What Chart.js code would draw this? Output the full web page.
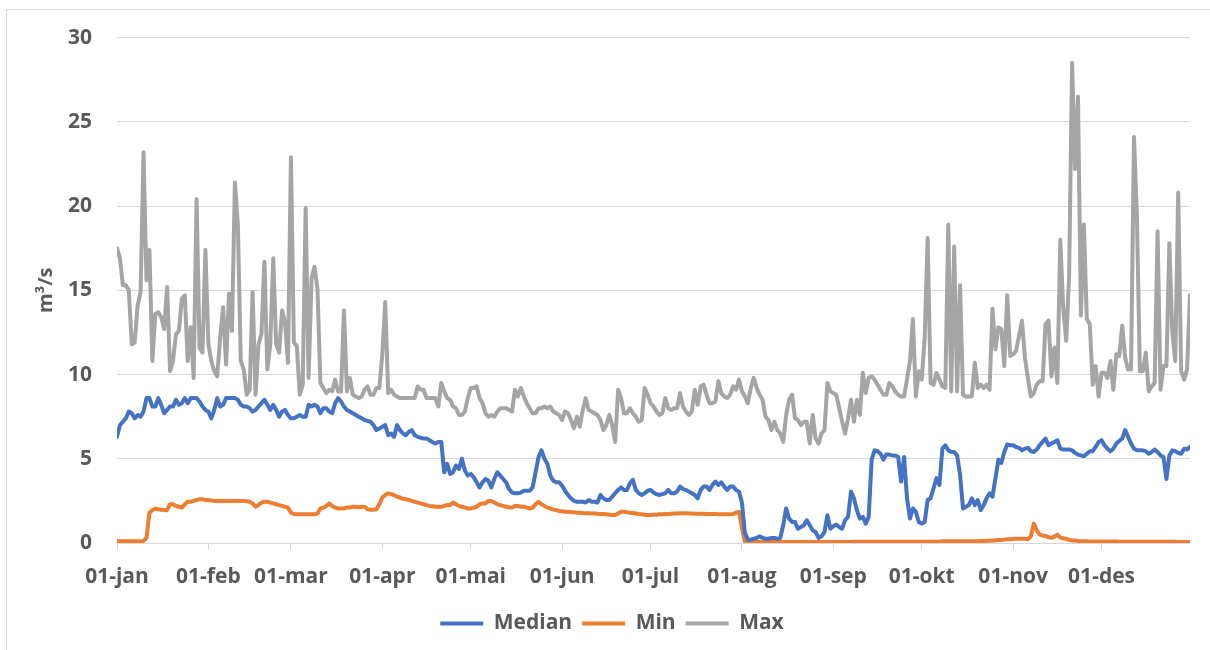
<!DOCTYPE html>
<html lang="no">
<head>
  <meta charset="UTF-8">
  <title>Vannføring – Median, Min, Max</title>
  <script src="https://cdn.jsdelivr.net/npm/chart.js"></script>
  <style>
    html, body { margin: 0; padding: 0; background: #fff; overflow: hidden; }
    #wrap { position: relative; width: 1210px; height: 650px; }
  </style>
</head>
<body>
  <div id="wrap"><canvas id="flowChart"></canvas></div>

  <script>
    // x-axis: day of year (0 = 01-jan), ticks at first day of each month
    const monthStarts = [0, 31, 59, 90, 120, 151, 181, 212, 243, 273, 304, 334];
    const monthLabels = ['01-jan', '01-feb', '01-mar', '01-apr', '01-mai', '01-jun',
                         '01-jul', '01-aug', '01-sep', '01-okt', '01-nov', '01-des'];
    const yTicks = [0, 5, 10, 15, 20, 25, 30];
    const seriesNames = ['Median', 'Min', 'Max'];

    // daily values, m³/s
    const medianValues = [
      /*0*/   6.3, 7.0, 7.2, 7.4, 7.8, 7.7, 7.4, 7.6, 7.5, 7.8,
      /*10*/  8.6, 8.6, 8.1, 8.1, 8.6, 8.2, 7.7, 7.9, 8.1, 8.1,
      /*20*/  8.5, 8.2, 8.3, 8.6, 8.3, 8.6, 8.6, 8.6, 8.4, 8.1,
      /*30*/  7.9, 7.8, 7.4, 7.9, 8.6, 8.1, 8.2, 8.6, 8.6, 8.6,
      /*40*/  8.6, 8.5, 8.2, 8.1, 8.1, 8.0, 7.8, 7.9, 8.1, 8.3,
      /*50*/  8.5, 8.2, 7.9, 8.2, 7.9, 7.5, 7.8, 7.9, 7.6, 7.4,
      /*60*/  7.4, 7.5, 7.6, 7.5, 7.5, 8.2, 8.1, 8.2, 8.1, 7.7,
      /*70*/  8.0, 8.0, 7.8, 7.7, 8.3, 8.6, 8.4, 8.1, 7.9, 7.8,
      /*80*/  7.7, 7.6, 7.5, 7.4, 7.3, 7.25, 7.2, 7.0, 6.7, 6.8,
      /*90*/  6.9, 7.0, 6.4, 6.5, 6.3, 7.0, 6.7, 6.5, 6.4, 6.6,
      /*100*/ 6.7, 6.4, 6.3, 6.25, 6.2, 6.2, 6.1, 6.0, 5.9, 6.0,
      /*110*/ 6.0, 4.2, 4.7, 4.1, 4.2, 4.6, 4.4, 5.0, 4.3, 4.0,
      /*120*/ 4.1, 3.9, 3.6, 3.3, 3.6, 3.8, 3.7, 3.3, 3.8, 4.2,
      /*130*/ 4.0, 3.8, 3.6, 3.2, 3.0, 2.95, 2.95, 3.0, 3.1, 3.1,
      /*140*/ 3.1, 3.3, 4.2, 5.1, 5.5, 5.0, 4.7, 4.0, 3.7, 3.6,
      /*150*/ 3.6, 3.4, 3.1, 2.85, 2.65, 2.5, 2.45, 2.45, 2.45, 2.4,
      /*160*/ 2.55, 2.45, 2.45, 2.4, 2.85, 2.65, 2.55, 2.55, 2.75, 2.95,
      /*170*/ 3.15, 3.3, 3.15, 3.15, 3.55, 3.75, 3.15, 2.95, 2.85, 2.95,
      /*180*/ 3.1, 3.15, 3.0, 2.9, 2.85, 2.9, 2.95, 3.15, 2.95, 2.95,
      /*190*/ 3.05, 3.35, 3.2, 3.15, 3.05, 2.95, 2.85, 2.65, 3.15, 3.35,
      /*200*/ 3.35, 3.15, 3.45, 3.65, 3.45, 3.6, 3.35, 3.15, 3.35, 3.35,
      /*210*/ 3.15, 3.05, 2.4, 0.6, 0.2, 0.2, 0.25, 0.3, 0.4, 0.3,
      /*220*/ 0.25, 0.25, 0.3, 0.3, 0.25, 0.3, 1.05, 2.05, 1.45, 1.25,
      /*230*/ 1.25, 0.85, 0.95, 1.05, 1.35, 1.05, 0.75, 0.65, 0.3, 0.4,
      /*240*/ 0.65, 1.65, 0.85, 1.0, 1.1, 0.95, 0.85, 1.35, 1.55, 3.05,
      /*250*/ 2.65, 1.95, 1.45, 1.55, 1.15, 1.55, 4.95, 5.5, 5.45, 5.3,
      /*260*/ 4.95, 5.25, 5.25, 5.2, 5.2, 5.1, 3.65, 5.1, 2.65, 1.45,
      /*270*/ 2.05, 1.85, 1.25, 1.15, 1.25, 2.55, 2.65, 3.25, 3.85, 3.45,
      /*280*/ 5.6, 5.8, 5.5, 5.4, 5.4, 5.2, 4.05, 2.05, 2.15, 2.25,
      /*290*/ 2.65, 2.25, 2.55, 1.95, 2.25, 2.65, 2.95, 2.75, 3.85, 4.95,
      /*300*/ 4.75, 5.4, 5.85, 5.8, 5.8, 5.7, 5.65, 5.5, 5.6, 5.65,
      /*310*/ 5.45, 5.4, 5.55, 5.8, 6.0, 6.2, 5.8, 5.9, 6.0, 6.1,
      /*320*/ 5.6, 5.55, 5.55, 5.55, 5.5, 5.35, 5.25, 5.2, 5.15, 5.3,
      /*330*/ 5.45, 5.45, 5.7, 6.0, 6.1, 5.8, 5.6, 5.45, 5.6, 5.9,
      /*340*/ 6.05, 6.2, 6.7, 6.3, 5.9, 5.6, 5.5, 5.5, 5.5, 5.45,
      /*350*/ 5.3, 5.4, 5.55, 5.4, 5.2, 5.1, 3.8, 5.2, 5.5, 5.45,
      /*360*/ 5.35, 5.3, 5.6, 5.55, 5.7
    ];

    const minValues = [
      /*0*/   0.1, 0.1, 0.1, 0.1, 0.1, 0.1, 0.1, 0.1, 0.1, 0.12,
      /*10*/  0.3, 1.8, 1.95, 2.05, 2.0, 1.98, 1.95, 1.95, 2.3, 2.3,
      /*20*/  2.2, 2.15, 2.1, 2.3, 2.45, 2.45, 2.5, 2.55, 2.6, 2.6,
      /*30*/  2.55, 2.55, 2.52, 2.5, 2.5, 2.5, 2.5, 2.5, 2.5, 2.5,
      /*40*/  2.5, 2.5, 2.5, 2.5, 2.48, 2.45, 2.35, 2.15, 2.25, 2.4,
      /*50*/  2.45, 2.45, 2.4, 2.35, 2.3, 2.25, 2.2, 2.15, 2.1, 1.8,
      /*60*/  1.72, 1.7, 1.7, 1.7, 1.7, 1.7, 1.7, 1.7, 1.75, 2.05,
      /*70*/  2.1, 2.2, 2.35, 2.2, 2.1, 2.05, 2.05, 2.05, 2.1, 2.1,
      /*80*/  2.15, 2.15, 2.12, 2.15, 2.15, 2.0, 1.98, 1.98, 2.0, 2.3,
      /*90*/  2.7, 2.85, 2.95, 2.9, 2.85, 2.75, 2.7, 2.62, 2.6, 2.55,
      /*100*/ 2.5, 2.45, 2.4, 2.35, 2.3, 2.25, 2.2, 2.18, 2.15, 2.15,
      /*110*/ 2.15, 2.2, 2.25, 2.25, 2.4, 2.3, 2.2, 2.15, 2.1, 2.05,
      /*120*/ 2.05, 2.1, 2.15, 2.3, 2.35, 2.35, 2.5, 2.5, 2.4, 2.3,
      /*130*/ 2.25, 2.2, 2.15, 2.1, 2.1, 2.2, 2.2, 2.15, 2.15, 2.1,
      /*140*/ 2.05, 2.1, 2.3, 2.45, 2.3, 2.2, 2.1, 2.05, 1.98, 1.95,
      /*150*/ 1.9, 1.88, 1.86, 1.85, 1.83, 1.82, 1.8, 1.8, 1.78, 1.77,
      /*160*/ 1.76, 1.75, 1.75, 1.73, 1.72, 1.72, 1.7, 1.68, 1.66, 1.66,
      /*170*/ 1.75, 1.85, 1.85, 1.83, 1.8, 1.78, 1.75, 1.72, 1.7, 1.68,
      /*180*/ 1.66, 1.66, 1.68, 1.68, 1.7, 1.7, 1.72, 1.72, 1.74, 1.75,
      /*190*/ 1.75, 1.76, 1.76, 1.76, 1.75, 1.75, 1.74, 1.74, 1.73, 1.73,
      /*200*/ 1.72, 1.72, 1.72, 1.72, 1.71, 1.71, 1.7, 1.7, 1.7, 1.72,
      /*210*/ 1.8, 1.85, 0.9, 0.08, 0.06, 0.06, 0.06, 0.06, 0.06, 0.06,
      /*220*/ 0.06, 0.06, 0.06, 0.06, 0.06, 0.06, 0.06, 0.06, 0.06, 0.06,
      /*230*/ 0.06, 0.06, 0.06, 0.06, 0.06, 0.06, 0.06, 0.06, 0.06, 0.06,
      /*240*/ 0.06, 0.06, 0.06, 0.06, 0.06, 0.06, 0.06, 0.06, 0.06, 0.06,
      /*250*/ 0.07, 0.07, 0.07, 0.07, 0.07, 0.07, 0.07, 0.07, 0.07, 0.07,
      /*260*/ 0.07, 0.07, 0.07, 0.07, 0.07, 0.07, 0.07, 0.07, 0.07, 0.07,
      /*270*/ 0.08, 0.08, 0.08, 0.08, 0.08, 0.08, 0.08, 0.08, 0.08, 0.08,
      /*280*/ 0.1, 0.1, 0.1, 0.1, 0.1, 0.1, 0.1, 0.1, 0.1, 0.1,
      /*290*/ 0.1, 0.1, 0.11, 0.12, 0.12, 0.13, 0.14, 0.15, 0.16, 0.18,
      /*300*/ 0.18, 0.2, 0.22, 0.22, 0.24, 0.25, 0.25, 0.25, 0.25, 0.22,
      /*310*/ 0.4, 1.15, 0.75, 0.5, 0.45, 0.42, 0.35, 0.3, 0.38, 0.5,
      /*320*/ 0.32, 0.28, 0.25, 0.18, 0.15, 0.15, 0.12, 0.1, 0.1, 0.1,
      /*330*/ 0.09, 0.09, 0.09, 0.09, 0.09, 0.09, 0.09, 0.09, 0.09, 0.09,
      /*340*/ 0.08, 0.08, 0.08, 0.08, 0.08, 0.08, 0.08, 0.08, 0.08, 0.08,
      /*350*/ 0.07, 0.07, 0.07, 0.07, 0.07, 0.07, 0.07, 0.07, 0.07, 0.07,
      /*360*/ 0.06, 0.06, 0.06, 0.06, 0.06
    ];

    const maxValues = [
      /*0*/   17.5, 16.9, 15.3, 15.3, 15.0, 11.8, 11.9, 14.1, 14.9, 23.2,
      /*10*/  15.6, 17.4, 10.8, 13.6, 13.7, 13.4, 12.7, 15.2, 10.2, 10.8,
      /*20*/  12.4, 12.6, 14.5, 14.7, 10.8, 12.8, 9.8, 20.4, 11.6, 11.3,
      /*30*/  17.4, 11.8, 10.8, 10.2, 9.9, 12.2, 14.0, 10.6, 14.8, 12.6,
      /*40*/  21.4, 18.9, 10.8, 10.3, 8.8, 9.1, 14.9, 8.8, 11.8, 12.4,
      /*50*/  16.7, 10.3, 11.8, 16.9, 11.8, 11.3, 13.8, 13.1, 10.7, 22.9,
      /*60*/  11.9, 11.7, 8.8, 9.4, 19.9, 9.8, 15.7, 16.4, 15.1, 9.5,
      /*70*/  9.2, 8.9, 9.1, 9.0, 9.7, 9.0, 9.0, 13.8, 9.0, 9.8,
      /*80*/  8.8, 8.7, 8.6, 8.7, 9.1, 9.3, 8.8, 8.8, 9.2, 9.2,
      /*90*/  11.2, 14.3, 8.9, 9.1, 8.8, 8.7, 8.6, 8.6, 8.6, 8.6,
      /*100*/ 8.6, 8.6, 9.3, 9.1, 9.1, 8.6, 8.6, 8.6, 8.6, 8.1,
      /*110*/ 9.5, 9.0, 8.6, 8.5, 8.1, 8.0, 7.6, 7.6, 7.8, 8.6,
      /*120*/ 9.2, 9.2, 9.3, 8.6, 8.3, 7.7, 7.5, 7.6, 7.5, 7.8,
      /*130*/ 8.0, 8.0, 8.0, 7.9, 7.8, 9.1, 8.7, 9.2, 8.7, 8.3,
      /*140*/ 8.0, 7.7, 7.7, 8.0, 8.0, 8.1, 8.0, 8.1, 7.8, 7.7,
      /*150*/ 7.6, 7.3, 7.8, 7.7, 7.3, 6.8, 7.5, 6.9, 7.9, 8.6,
      /*160*/ 7.9, 7.8, 7.7, 7.6, 7.3, 6.7, 7.0, 7.6, 7.0, 6.0,
      /*170*/ 9.1, 8.6, 7.7, 7.7, 8.0, 7.7, 7.5, 7.2, 7.3, 9.2,
      /*180*/ 8.8, 8.3, 8.1, 7.8, 7.6, 7.7, 8.6, 8.0, 7.9, 8.0,
      /*190*/ 8.0, 8.9, 8.1, 7.8, 7.6, 7.8, 9.1, 8.2, 9.3, 9.4,
      /*200*/ 8.8, 8.3, 8.3, 8.4, 9.6, 8.9, 8.7, 8.6, 8.8, 9.3,
      /*210*/ 9.1, 9.7, 9.0, 8.7, 8.3, 9.2, 9.8, 9.2, 8.8, 8.5,
      /*220*/ 7.5, 7.3, 6.7, 7.2, 6.7, 6.5, 6.0, 7.6, 8.5, 8.8,
      /*230*/ 7.4, 7.3, 7.0, 7.2, 7.2, 5.9, 7.6, 6.2, 5.9, 6.5,
      /*240*/ 6.7, 9.5, 9.0, 8.9, 8.8, 8.0, 7.2, 6.5, 7.4, 8.5,
      /*250*/ 7.2, 8.5, 7.6, 10.1, 8.9, 9.8, 9.9, 9.7, 9.4, 9.1,
      /*260*/ 8.8, 8.8, 9.5, 9.3, 9.0, 8.8, 8.7, 8.7, 9.7, 10.8,
      /*270*/ 13.3, 8.7, 10.2, 9.7, 12.2, 18.1, 9.5, 9.4, 10.1, 9.7,
      /*280*/ 9.3, 9.2, 18.9, 9.0, 17.6, 9.0, 15.3, 8.8, 8.7, 8.7,
      /*290*/ 8.7, 10.7, 9.2, 9.4, 9.2, 9.4, 9.1, 13.9, 11.5, 12.8,
      /*300*/ 12.7, 10.5, 14.7, 11.1, 11.2, 11.4, 12.3, 13.2, 11.0, 9.8,
      /*310*/ 8.7, 8.9, 9.4, 9.6, 9.6, 13.0, 13.2, 9.9, 11.6, 9.5,
      /*320*/ 18.0, 13.9, 12.0, 15.9, 28.5, 22.2, 26.5, 13.5, 18.9, 13.3,
      /*330*/ 13.0, 9.4, 10.5, 8.7, 10.1, 10.1, 9.8, 10.8, 9.1, 11.2,
      /*340*/ 11.1, 12.9, 11.0, 10.3, 10.3, 24.1, 19.3, 10.2, 10.2, 11.3,
      /*350*/ 9.0, 9.3, 9.5, 18.5, 9.1, 10.5, 10.5, 17.8, 12.5, 10.8,
      /*360*/ 20.8, 10.2, 9.7, 10.3, 14.7
    ];

    const toPoints = arr => arr.map((v, i) => ({ x: i, y: v }));
    const textColor = '#595959';
    const gridColor = '#D9D9D9';

    Chart.defaults.font.family = '"Open Sans", "Liberation Sans", sans-serif';
    Chart.defaults.font.weight = 'bold';
    Chart.defaults.color = textColor;

    // thin light border around the chart, like the office chart frame
    const frame = {
      id: 'frame',
      beforeDraw(chart) {
        const c = chart.ctx;
        c.save();
        c.strokeStyle = gridColor;
        c.lineWidth = 1;
        c.strokeRect(6.5, 9.5, chart.width, chart.height);
        c.restore();
      }
    };

    function lineSet(label, values, color) {
      return {
        label: label,
        data: toPoints(values),
        borderColor: color,
        backgroundColor: color,
        borderWidth: 4,
        borderJoinStyle: 'round',
        borderCapStyle: 'round',
        pointRadius: 0,
        pointHoverRadius: 0,
        tension: 0,
        fill: false
      };
    }

    new Chart(document.getElementById('flowChart'), {
      type: 'line',
      data: {
        datasets: [
          lineSet(seriesNames[0], medianValues, '#4472C4'),
          lineSet(seriesNames[1], minValues, '#ED7D31'),
          lineSet(seriesNames[2], maxValues, '#A5A5A5')
        ]
      },
      options: {
        responsive: true,
        maintainAspectRatio: false,
        animation: false,
        layout: { padding: { top: 36, right: 20, bottom: 6, left: 34 } },
        plugins: {
          tooltip: { enabled: false },
          legend: {
            position: 'bottom',
            labels: {
              usePointStyle: true,
              pointStyle: 'line',
              pointStyleWidth: 43,
              padding: 10,
              font: { size: 21, weight: 'bold' },
              color: textColor
            }
          }
        },
        scales: {
          x: {
            type: 'linear',
            min: 0,
            max: 364,
            afterBuildTicks: scale => { scale.ticks = monthStarts.map(v => ({ value: v })); },
            afterFit: scale => { scale.height = 60; },
            ticks: {
              autoSkip: false,
              maxRotation: 0,
              padding: 14,
              font: { size: 21, weight: 'bold' },
              color: textColor,
              callback: value => monthLabels[monthStarts.indexOf(value)]
            },
            grid: { drawOnChartArea: false, drawTicks: true, tickLength: 7, color: gridColor },
            border: { display: true, color: gridColor }
          },
          y: {
            min: 0,
            max: 30,
            afterBuildTicks: scale => { scale.ticks = yTicks.map(v => ({ value: v })); },
            afterFit: scale => { scale.width = 83; },
            ticks: {
              padding: 25,
              font: { size: 21, weight: 'bold' },
              color: textColor
            },
            grid: { color: gridColor, drawTicks: false },
            border: { display: false },
            title: {
              display: true,
              text: 'm³/s',
              font: { size: 20, weight: 'bold' },
              color: textColor,
              padding: { top: 0, bottom: 0 }
            }
          }
        }
      },
      plugins: [frame]
    });
  </script>
</body>
</html>
